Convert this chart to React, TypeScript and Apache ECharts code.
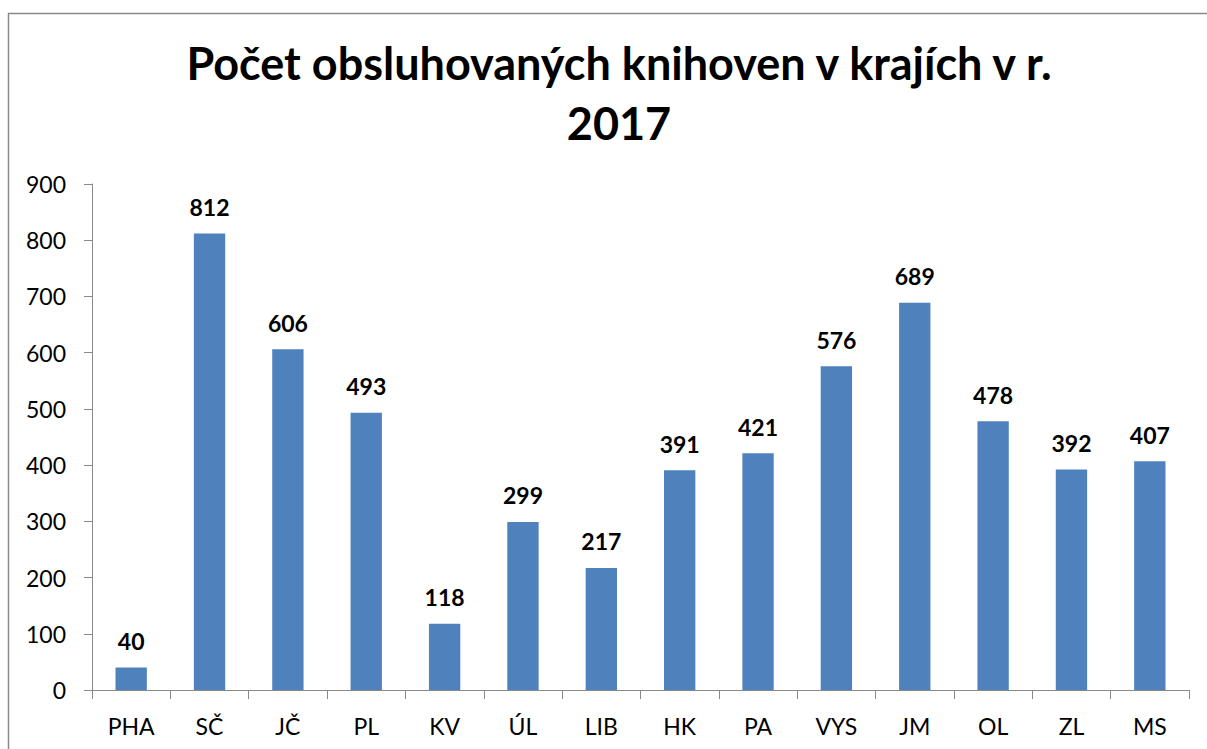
import React, { useEffect, useRef } from "react";
import * as echarts from "echarts";

const titleText = "Počet obsluhovaných knihoven v krajích v r.\n2017";
const categories = ["PHA", "SČ", "JČ", "PL", "KV", "ÚL", "LIB", "HK", "PA", "VYS", "JM", "OL", "ZL", "MS"];
const values = [40, 812, 606, 493, 118, 299, 217, 391, 421, 576, 689, 478, 392, 407];
const yMin = 0;
const yMax = 900;
const yInterval = 100;

export default function App() {
  const ref = useRef<HTMLDivElement>(null);
  useEffect(() => {
    if (!ref.current) return;
    const chart = echarts.init(ref.current, undefined, { renderer: "svg" });
    const font = "Lato, 'Open Sans', sans-serif";
    const axisColor = "#898989";
    chart.setOption({
      animation: false,
      backgroundColor: "#ffffff",
      textStyle: { fontFamily: font },
      graphic: [
        {
          type: "rect",
          shape: { x: 8.5, y: 13.5, width: 1400, height: 900 },
          style: { fill: "none", stroke: "#8a8a8a", lineWidth: 1.5 },
          silent: true,
        },
      ],
      title: {
        text: titleText,
        left: 614,
        top: 28,
        textAlign: "center",
        textStyle: {
          fontFamily: font,
          fontSize: 45,
          fontWeight: "bold",
          color: "#000",
          lineHeight: 60,
        },
      },
      grid: { left: 92, right: 18, top: 184, bottom: 59, containLabel: false },
      xAxis: {
        type: "category",
        data: categories,
        axisLine: { show: true, lineStyle: { color: axisColor, width: 1 } },
        axisTick: { show: true, length: 9, lineStyle: { color: axisColor } },
        axisLabel: { color: "#000", fontSize: 23, fontFamily: font, margin: 24 },
        splitLine: { show: false },
      },
      yAxis: {
        type: "value",
        min: yMin,
        max: yMax,
        interval: yInterval,
        axisLine: { show: true, lineStyle: { color: axisColor, width: 1 } },
        axisTick: { show: true, length: 8, lineStyle: { color: axisColor } },
        axisLabel: { color: "#000", fontSize: 23, fontFamily: font, margin: 26 },
        splitLine: { show: false },
      },
      series: [
        {
          type: "bar",
          data: values,
          barWidth: "40%",
          itemStyle: { color: "#4F81BD" },
          label: {
            show: true,
            position: "top",
            distance: 15,
            color: "#000",
            fontSize: 23,
            fontWeight: "bold",
            fontFamily: font,
          },
        },
      ],
    });
    return () => chart.dispose();
  }, []);
  return (
    <div
      ref={ref}
      style={{ position: "fixed", left: 0, top: 0, width: 1207, height: 749 }}
    />
  );
}
